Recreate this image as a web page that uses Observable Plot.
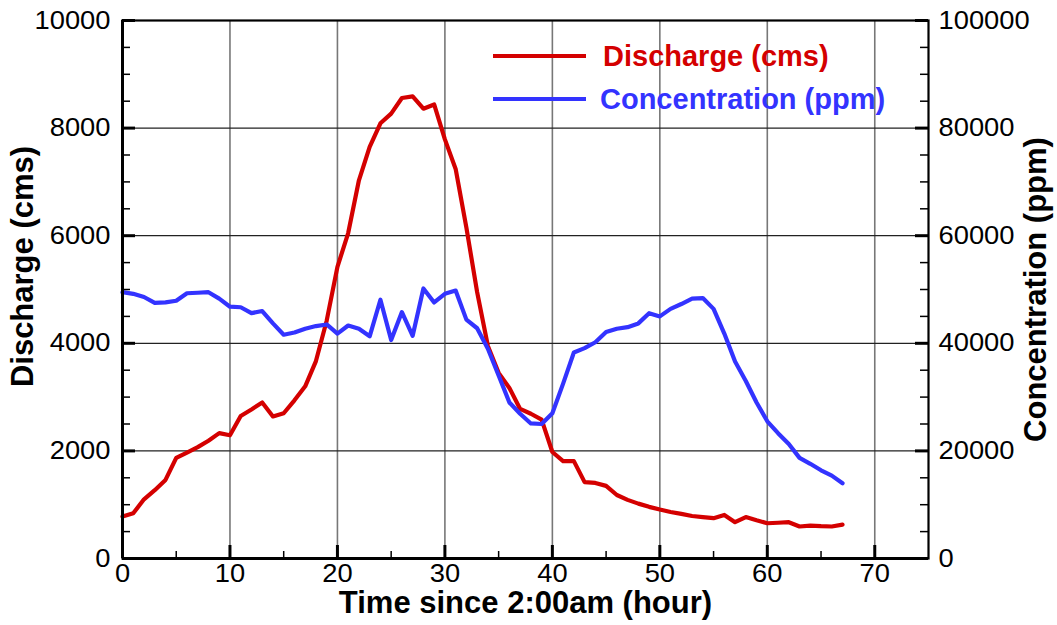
<!DOCTYPE html>
<html>
<head>
<meta charset="utf-8">
<script src="https://cdn.jsdelivr.net/npm/d3@7"></script>
<script src="https://cdn.jsdelivr.net/npm/@observablehq/plot@0.6"></script>
<style>
  html, body { margin: 0; padding: 0; background: #fff; }
  #chart { position: relative; width: 1057px; height: 625px; }
</style>
</head>
<body>
<div id="chart"></div>
<script>
// ---- data ----
const hours = [0,1,2,3,4,5,6,7,8,9,10,11,12,13,14,15,16,17,18,19,20,21,22,23,24,25,26,27,28,29,30,31,32,33,34,35,36,37,38,39,40,41,42,43,44,45,46,47,48,49,50,51,52,53,54,55,56,57,58,59,60,61,62,63,64,65,66,67];
const discharge = [780,840,1100,1270,1460,1870,1970,2070,2190,2330,2290,2650,2770,2900,2640,2700,2940,3200,3670,4420,5420,6050,7030,7650,8090,8270,8560,8590,8360,8440,7790,7240,6150,4950,3950,3450,3170,2780,2690,2580,1980,1810,1810,1420,1405,1350,1180,1090,1020,960,910,865,830,790,770,750,810,675,770,710,655,665,675,595,612,600,595,630];
const concentration = [49500,49200,48600,47500,47600,47900,49300,49400,49500,48300,46800,46700,45600,46000,43700,41600,42000,42700,43200,43500,41800,43300,42700,41300,48100,40600,45800,41400,50200,47600,49200,49800,44400,42800,39000,34000,29000,26900,25100,25000,27000,32500,38300,39100,40200,42100,42700,43000,43700,45600,45000,46400,47300,48300,48400,46400,41800,36600,33000,29000,25500,23300,21300,18700,17600,16400,15400,14000];

const xMajorTicks = [0,10,20,30,40,50,60,70];
const xMinorTicks = [5,15,25,35,45,55,65];
const yMajorTicks = [0,2000,4000,6000,8000,10000];
const yMinorTicks = [500,1000,1500,2500,3000,3500,4500,5000,5500,6500,7000,7500,8500,9000,9500];
const yLeftLabels = ["0","2000","4000","6000","8000","10000"];
const yRightLabels = ["0","20000","40000","60000","80000","100000"];
const xLabels = ["0","10","20","30","40","50","60","70"];
const seriesNames = ["Discharge (cms)", "Concentration (ppm)"];
const xTitle = "Time since 2:00am (hour)";
const yTitleLeft = "Discharge (cms)";
const yTitleRight = "Concentration (ppm)";

const RED = "#d40000";
const BLUE = "#3333ff";

const W = 1057, H = 625, mL = 122, mR = 129, mT = 20, mB = 67;
const innerW = W - mL - mR, innerH = H - mT - mB;

const dData = hours.map((h, i) => ({h, v: discharge[i]}));
const cData = hours.map((h, i) => ({h, v: concentration[i]}));

const plot = Plot.plot({
  width: W, height: H,
  marginLeft: mL, marginRight: mR, marginTop: mT, marginBottom: mB,
  style: {fontFamily: "'Liberation Sans', Arial, sans-serif", fontSize: "25px", color: "black", background: "white"},
  x: {domain: [0, 75], axis: null},
  y: {domain: [0, 10000], axis: null},
  marks: [
    Plot.ruleX(xMajorTicks.filter(d => d > 0), {x: d => d, stroke: "#777", strokeWidth: 1.6}),
    Plot.ruleY(yMajorTicks.filter(d => d > 0 && d < 10000), {y: d => d, stroke: "#222", strokeWidth: 1.3}),
    Plot.line(dData, {x: "h", y: "v", stroke: RED, strokeWidth: 4.2}),
    Plot.line(cData, {x: "h", y: d => d.v / 10, stroke: BLUE, strokeWidth: 4.2}),
    Plot.frame({stroke: "black", strokeWidth: 2.2}),
    Plot.ruleX([0], {stroke: "black", strokeWidth: 3}),
    Plot.ruleY([0], {stroke: "black", strokeWidth: 3}),
    // left ticks (inward)
    Plot.tickY(yMajorTicks, {y: d => d, insetRight: innerW - 13, stroke: "black", strokeWidth: 3}),
    Plot.tickY(yMinorTicks, {y: d => d, insetRight: innerW - 8, stroke: "black", strokeWidth: 1.5}),
    // right ticks (inward)
    Plot.tickY(yMajorTicks, {y: d => d, insetLeft: innerW - 13, stroke: "black", strokeWidth: 3}),
    Plot.tickY(yMinorTicks, {y: d => d, insetLeft: innerW - 8, stroke: "black", strokeWidth: 1.5}),
    // bottom ticks (inward)
    Plot.tickX(xMajorTicks, {x: d => d, insetTop: innerH - 13, stroke: "black", strokeWidth: 3}),
    Plot.tickX(xMinorTicks, {x: d => d, insetTop: innerH - 7, stroke: "black", strokeWidth: 1.5}),
    Plot.axisY(yMajorTicks, {anchor: "left", tickSize: 0, tickPadding: 12, label: null,
      tickFormat: d => yLeftLabels[yMajorTicks.indexOf(d)], fontSize: 25}),
    Plot.axisY(yMajorTicks, {anchor: "right", tickSize: 0, tickPadding: 10, label: null,
      tickFormat: d => yRightLabels[yMajorTicks.indexOf(d)], fontSize: 25}),
    Plot.axisX(xMajorTicks, {anchor: "bottom", tickSize: 0, tickPadding: 6, label: null,
      tickFormat: d => xLabels[xMajorTicks.indexOf(d)], fontSize: 25}),
    Plot.text([xTitle], {text: d => d, frameAnchor: "bottom", dy: 45, lineAnchor: "middle", textAnchor: "middle",
      fontSize: 31, fontWeight: "bold", fill: "black", ariaLabel: "x-title"}),
    Plot.text([yTitleLeft], {text: d => d, frameAnchor: "left", rotate: -90, dx: -99, dy: -23, lineAnchor: "middle", textAnchor: "middle",
      fontSize: 31, fontWeight: "bold", fill: "black", ariaLabel: "y-title-left"}),
    Plot.text([yTitleRight], {text: d => d, frameAnchor: "right", rotate: -90, dx: 108, lineAnchor: "middle", textAnchor: "middle",
      fontSize: 31, fontWeight: "bold", fill: "black"})
  ]
});

const svg = d3.select(plot);
// widen tick-label glyphs to match the reference
svg.selectAll('g[aria-label="y-axis tick label"] text, g[aria-label="x-axis tick label"] text').each(function() {
  const n = this.textContent.length;
  this.setAttribute("textLength", n * 15.2);
  this.setAttribute("lengthAdjust", "spacingAndGlyphs");
});
svg.selectAll('g[aria-label="x-title"] text').attr("textLength", 382).attr("lengthAdjust", "spacingAndGlyphs");
svg.selectAll('g[aria-label="y-title-left"] text').attr("textLength", 280).attr("lengthAdjust", "spacingAndGlyphs");

// legend inside plot
const leg = svg.append("g").attr("font-family", "'Liberation Sans', Arial, sans-serif")
  .attr("font-weight", "bold").attr("font-size", 29).attr("text-anchor", "start");
const legColors = [RED, BLUE];
const legY = [56, 99];
const legTextX = [603, 600];
seriesNames.forEach((name, i) => {
  leg.append("line").attr("x1", 493).attr("x2", 586).attr("y1", legY[i]).attr("y2", legY[i])
    .attr("stroke", legColors[i]).attr("stroke-width", 4.2);
  leg.append("text").attr("x", legTextX[i]).attr("y", legY[i] + 10).attr("fill", legColors[i])
    .attr("text-anchor", "start").text(name);
});

document.getElementById("chart").appendChild(plot);
</script>
</body>
</html>
